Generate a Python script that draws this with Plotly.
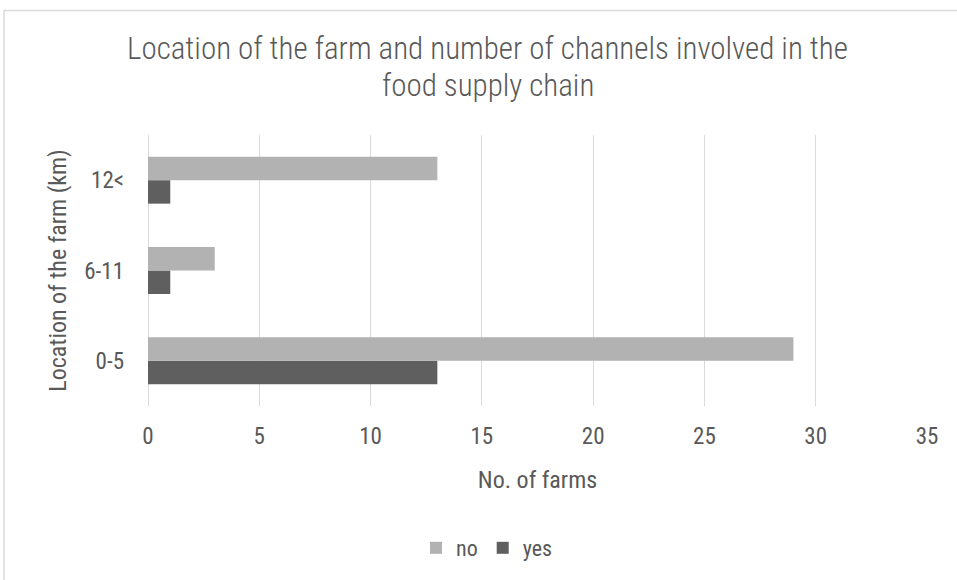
import plotly.graph_objects as go

categories = ["0-5", "6-11", "12<"]
no_values = [29, 3, 13]
yes_values = [13, 1, 1]
x_ticks = [0, 5, 10, 15, 20, 25, 30, 35]
title_line1 = "Location of the farm and number of channels involved in the"
title_line2 = "food supply chain"

FONT = "Roboto Condensed"
TXT = "#595959"

fig = go.Figure()
fig.add_trace(go.Bar(y=categories, x=yes_values, name="yes", orientation="h",
                     marker=dict(color="#5F5F5F", line=dict(width=0))))
fig.add_trace(go.Bar(y=categories, x=no_values, name="no", orientation="h",
                     marker=dict(color="#B2B2B2", line=dict(width=0))))

W, H = 957, 580
L, R, T, B = 148, 30, 135, 173
pw, ph = W - L - R, H - T - B

def px(x):
    return (x - L) / pw

def py(y):
    return (H - B - y) / ph

TITLE_FONT = dict(family=FONT, size=31, color=TXT, weight=300)

fig.update_layout(
    width=W, height=H,
    margin=dict(l=L, r=R, t=T, b=B),
    paper_bgcolor="white", plot_bgcolor="white",
    barmode="group", bargap=0.48, bargroupgap=0,
    font=dict(family=FONT, color=TXT, size=23),
    title=dict(text=title_line1,
               xref="container", x=487.5 / W, xanchor="center", y=1 - 48 / H, yanchor="middle",
               font=TITLE_FONT),
    xaxis=dict(range=[0, 35], tickvals=x_ticks, showgrid=True, gridcolor="#D9D9D9",
               gridwidth=1, zeroline=True, zerolinecolor="#D9D9D9", zerolinewidth=1,
               showline=False, ticks="", tickfont=dict(size=23, color=TXT),
               ticklabelstandoff=14,
               title=dict(text="No. of farms", font=dict(size=24, color=TXT), standoff=22)),
    yaxis=dict(showgrid=False, showline=False, ticks="", tickfont=dict(size=23, color=TXT),
               ticklabelstandoff=23,
               title=dict(text="Location of the farm (km)", font=dict(size=24, color=TXT), standoff=10)),
    legend=dict(orientation="h", x=px(487), xanchor="center", y=py(548), yanchor="middle",
                traceorder="reversed", font=dict(size=22, color=TXT),
                itemwidth=30),
    showlegend=True,
    annotations=[dict(text=title_line2, xref="paper", yref="paper", x=px(487.5), y=py(85),
                      xanchor="center", yanchor="middle", showarrow=False, font=TITLE_FONT)],
    shapes=[dict(type="rect", xref="paper", yref="paper",
                 x0=px(4), x1=px(W + 20), y0=py(H + 20), y1=py(10),
                 line=dict(color="#D9D9D9", width=1.5), fillcolor="rgba(0,0,0,0)", layer="below")],
)

fig.write_html("out.html")
